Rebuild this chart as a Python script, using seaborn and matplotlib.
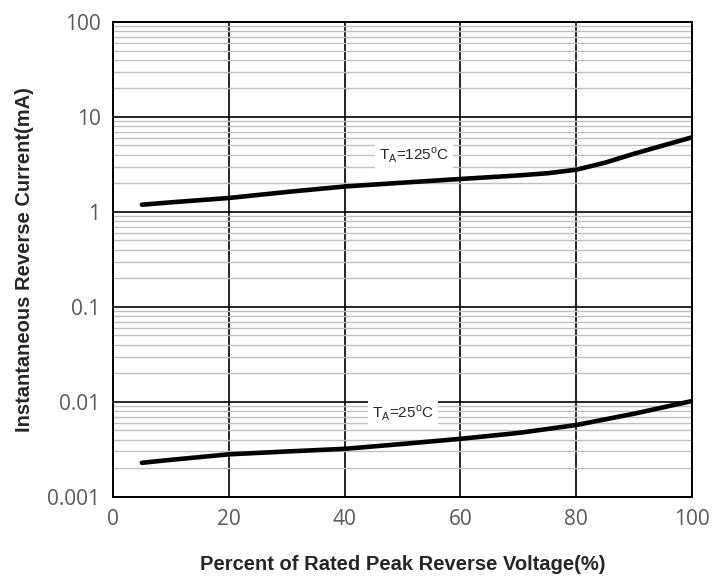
import matplotlib
matplotlib.use("Agg")
import matplotlib.pyplot as plt
import seaborn as sns
import pandas as pd
from matplotlib.ticker import LogLocator, FixedLocator

voltage_pct = [5, 10, 20, 30, 40, 50, 60, 70, 75, 80, 85, 90, 95, 100]
current_125 = [1.19, 1.26, 1.40, 1.62, 1.85, 2.03, 2.22, 2.42, 2.55, 2.78, 3.3, 4.1, 5.0, 6.1]
voltage_pct_25 = [5, 10, 20, 30, 40, 50, 60, 70, 80, 90, 100]
current_25 = [0.00228, 0.00245, 0.00280, 0.00300, 0.00320, 0.00360, 0.00408,
              0.00470, 0.00570, 0.0075, 0.0102]

x_ticks = [0, 20, 40, 60, 80, 100]
y_ticks = [0.001, 0.01, 0.1, 1, 10, 100]
y_tick_labels = ["0.001", "0.01", "0.1", "1", "10", "100"]

df = pd.concat([
    pd.DataFrame({"V": voltage_pct, "I": current_125, "T": "125"}),
    pd.DataFrame({"V": voltage_pct_25, "I": current_25, "T": "25"}),
])

sns.set_style("white")
plt.rcParams["font.family"] = ["Liberation Sans", "DejaVu Sans"]

fig = plt.figure(figsize=(7.15, 5.77), dpi=100)
ax = fig.add_axes([0.158, 0.139, 0.81, 0.823])

sns.lineplot(data=df, x="V", y="I", units="T", estimator=None, color="black",
             linewidth=3.3, solid_capstyle="round", ax=ax, zorder=5)

ax.set_yscale("log")
ax.set_xlim(0, 100)
ax.set_ylim(0.001, 100)
ax.xaxis.set_major_locator(FixedLocator(x_ticks))
ax.yaxis.set_major_locator(FixedLocator(y_ticks))
ax.set_yticklabels(y_tick_labels)
ax.yaxis.set_minor_locator(LogLocator(base=10, subs=range(2, 10)))

ax.grid(which="major", color="black", linewidth=1.2, zorder=2)
ax.grid(which="minor", axis="y", color="#bfbfbf", linewidth=1.0, zorder=1)
ax.set_axisbelow(True)
for s in ax.spines.values():
    s.set_color("black")
    s.set_linewidth(1.4)

ax.tick_params(which="both", length=0, labelsize=15, labelcolor="#595959", pad=9)
for lab in ax.get_xticklabels() + ax.get_yticklabels():
    lab.set_fontfamily(["Open Sans", "DejaVu Sans"])

ax.set_xlabel("Percent of Rated Peak Reverse Voltage(%)", fontsize=14.5,
              fontweight="bold", labelpad=18)
ax.set_ylabel("Instantaneous Reverse Current(mA)", fontsize=14.5,
              fontweight="bold", labelpad=10)

box = dict(facecolor="white", edgecolor="none", pad=3)
ax.text(52, 3.9, r"T$_\mathregular{A}$=125$^\mathregular{o}$C", fontsize=11,
        ha="center", va="center", bbox=box, zorder=4)
ax.text(50, 0.0075, r"T$_\mathregular{A}$=25$^\mathregular{o}$C", fontsize=11,
        ha="center", va="center", bbox=box, zorder=4)

fig.savefig("out.png", dpi=100)
